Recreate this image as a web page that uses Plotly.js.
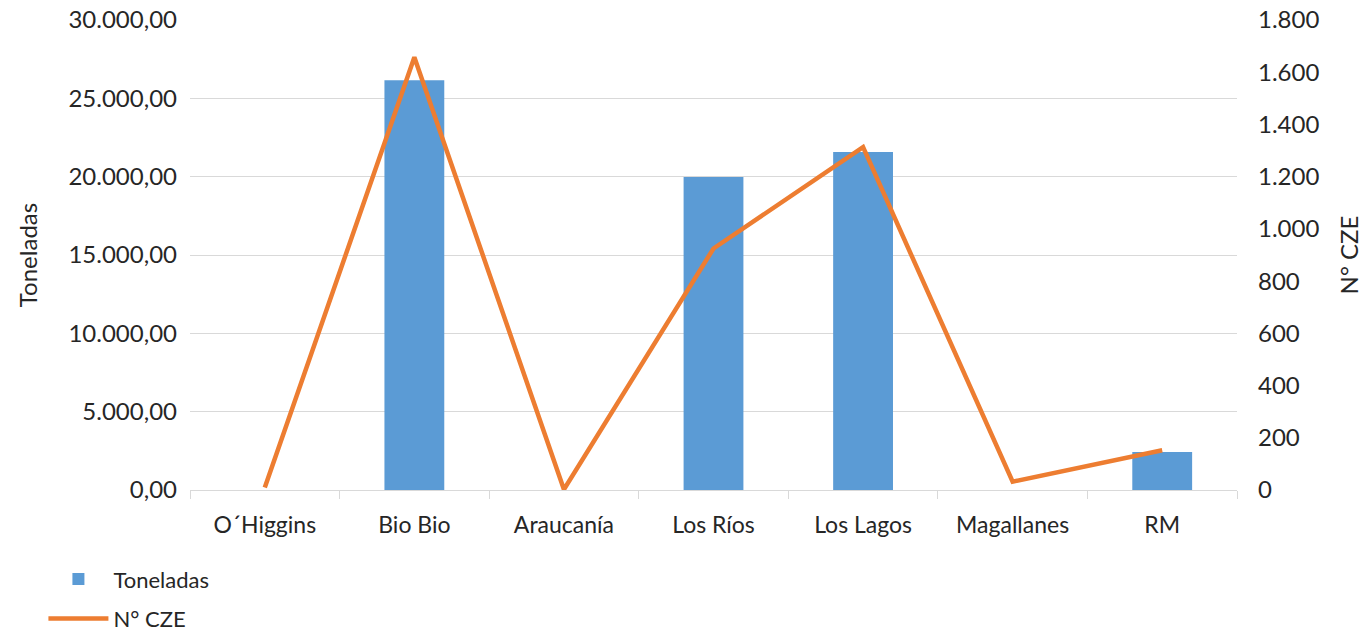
<!DOCTYPE html>
<html><head><meta charset="utf-8">
<script src="https://cdn.plot.ly/plotly-3.0.1.min.js"></script>
<style>html,body{margin:0;padding:0;background:#fff}#chart{width:1363px;height:634px}</style>
</head><body><div id="chart"></div>
<script>
const categories = ["O´Higgins", "Bio Bio", "Araucanía", "Los Ríos", "Los Lagos", "Magallanes", "RM"];
const toneladas = [0, 26150, 0, 19980, 21580, 0, 2420];
const nCZE = [10, 1657, 2, 925, 1313, 32, 152];
const seriesNames = ["Toneladas", "N° CZE"];

const font = "Lato, 'Open Sans', sans-serif";
const txt = "#262626";

const traces = [
  {type: "bar", name: seriesNames[0], x: categories, y: toneladas, legendgroup: "a",
   marker: {color: "#5B9BD5"}, yaxis: "y"},
  {type: "scatter", mode: "lines", name: seriesNames[1], x: categories, y: nCZE, legendgroup: "b",
   line: {color: "#ED7D31", width: 4.5}, yaxis: "y2"}
];

const layout = {
  width: 1363, height: 634,
  margin: {l: 190, r: 126, t: 20, b: 144, autoexpand: false},
  paper_bgcolor: "#fff", plot_bgcolor: "#fff",
  separators: ",.",
  font: {family: font, size: 24, color: txt},
  bargap: 0.6,
  showlegend: true,
  legend: {x: -0.14, xanchor: "left", y: -0.145, yanchor: "top",
           orientation: "v", font: {size: 22, color: txt}, itemwidth: 60,
           tracegroupgap: 8, borderwidth: 0},
  xaxis: {type: "category", showline: true, linecolor: "#d9d9d9", linewidth: 1,
          ticks: "outside", tickson: "boundaries", ticklen: 8, tickcolor: "#d9d9d9",
          showgrid: false, tickfont: {size: 23, color: txt}, zeroline: false,
          ticklabelstandoff: 14},
  yaxis: {range: [0, 30000], dtick: 5000, tickformat: ",.2f",
          showgrid: true, gridcolor: "#d9d9d9", gridwidth: 1, zeroline: false,
          showline: false, ticks: "", ticklabelstandoff: 12,
          tickfont: {size: 24, color: txt},
          title: {text: "Toneladas", font: {size: 24, color: txt}, standoff: 24}},
  yaxis2: {range: [0, 1800], dtick: 200, tickformat: ",d", overlaying: "y", side: "right",
           showgrid: false, zeroline: false, showline: false, ticks: "",
           ticklabelstandoff: 20,
           tickfont: {size: 24, color: txt},
           title: {text: "N° CZE", font: {size: 24, color: txt}, standoff: 22}}
};

Plotly.newPlot("chart", traces, layout, {displayModeBar: false, staticPlot: true});
</script></body></html>
